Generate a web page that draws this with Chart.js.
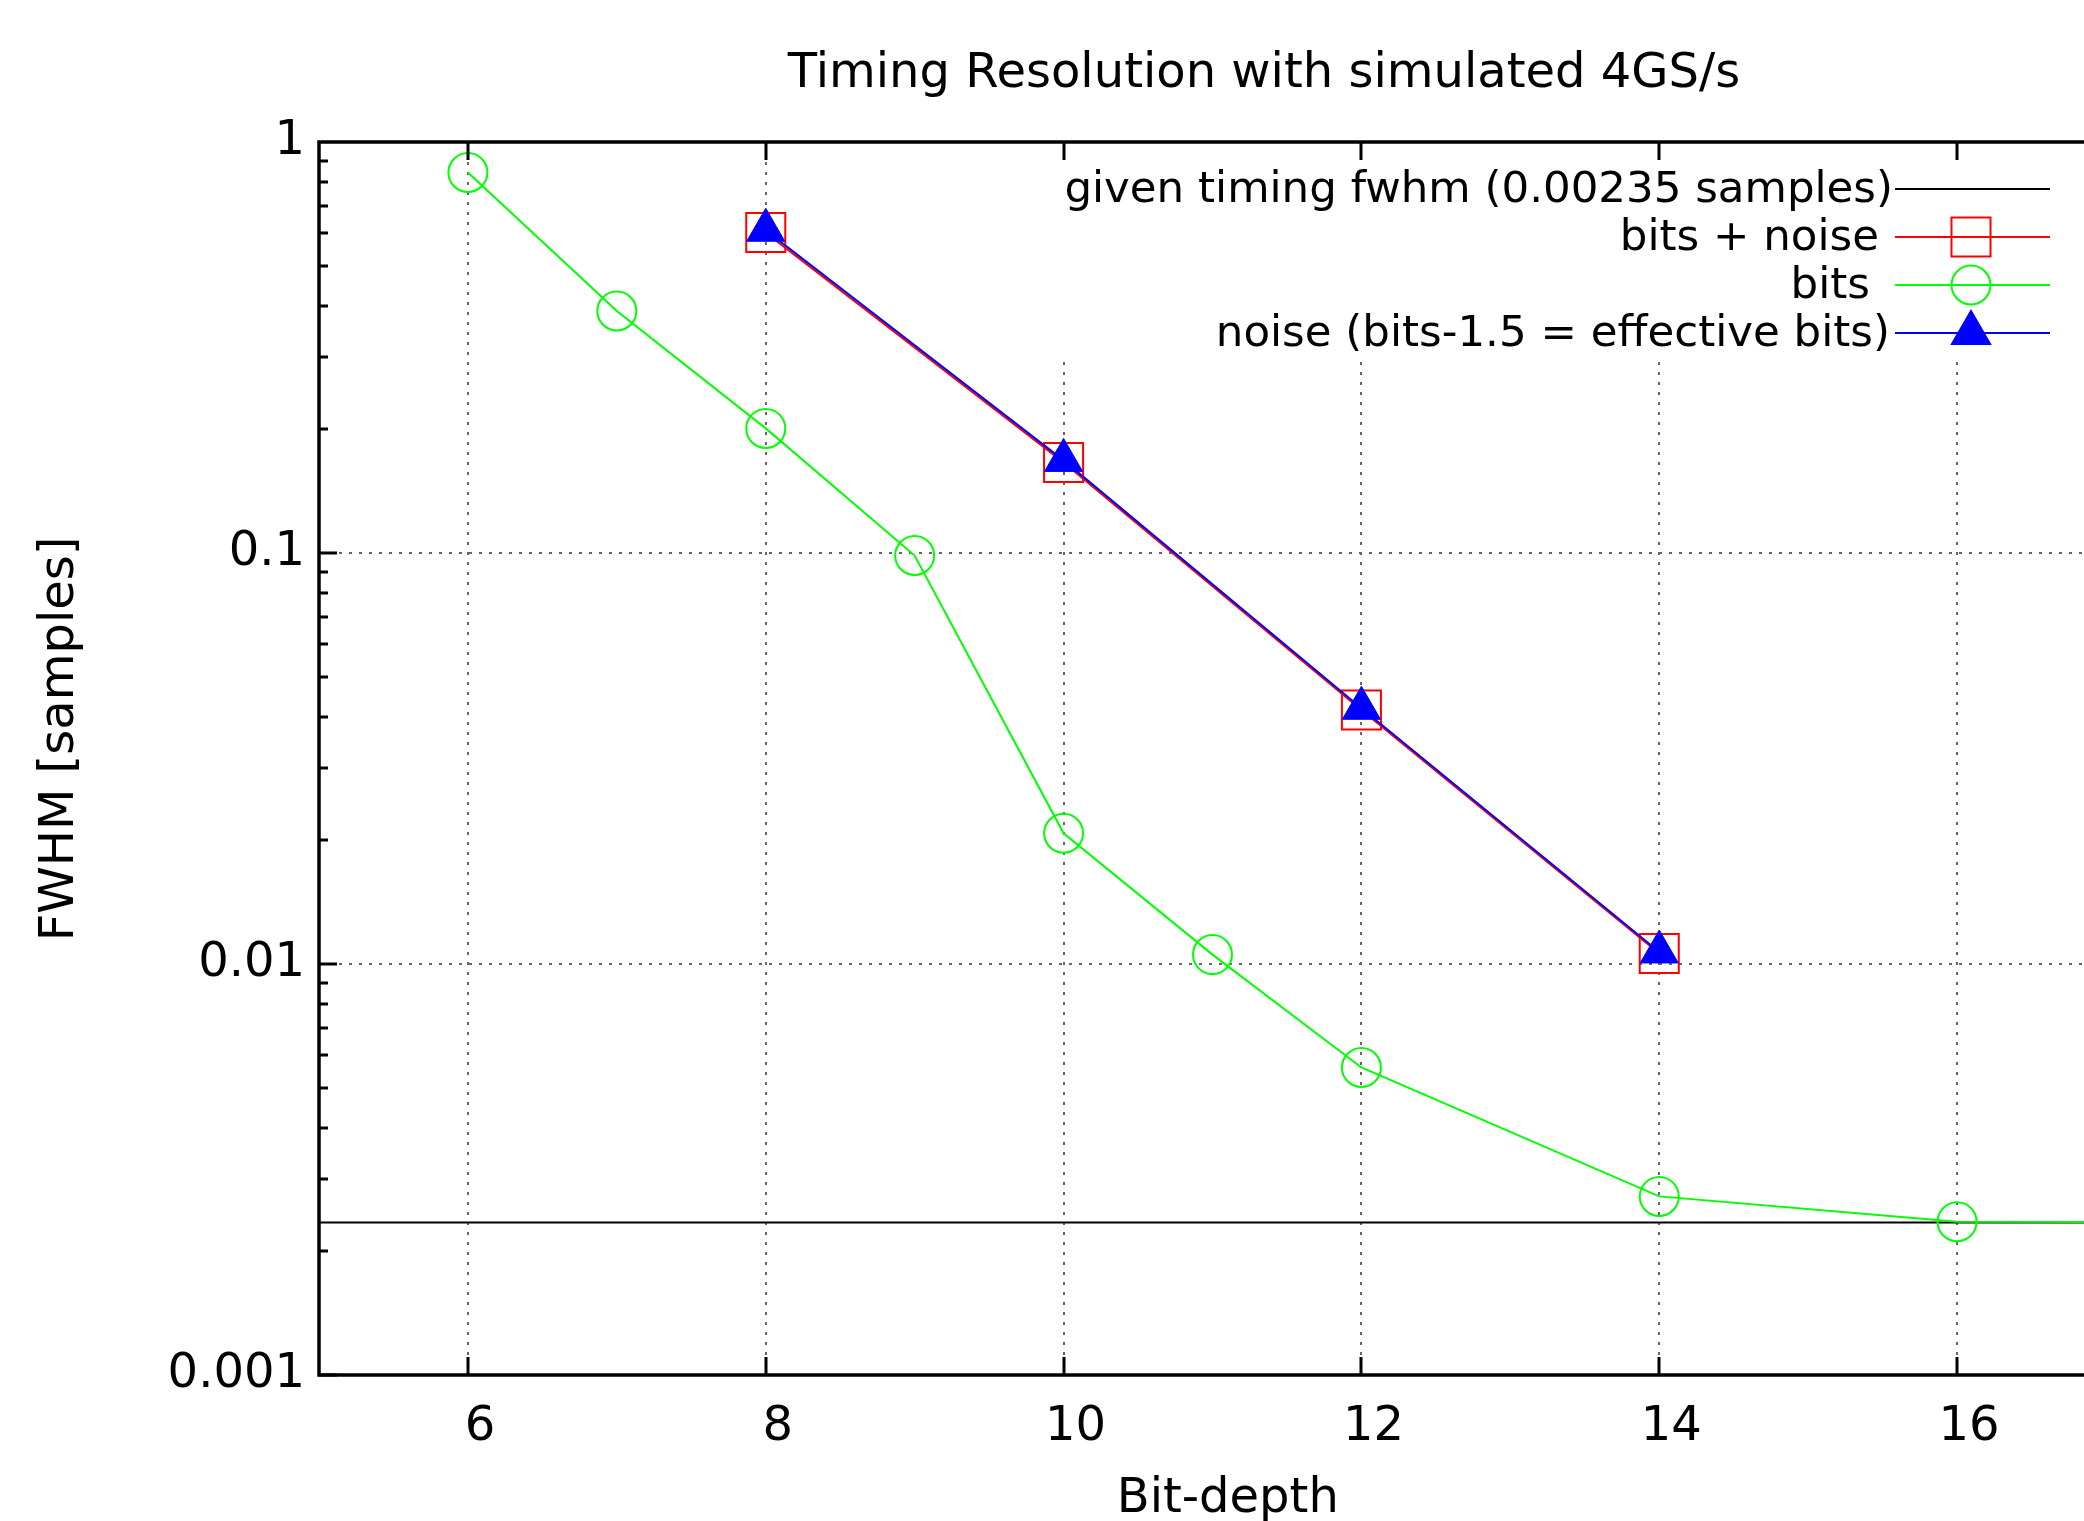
<!DOCTYPE html>
<html>
<head>
<meta charset="utf-8">
<script src="https://cdn.jsdelivr.net/npm/chart.js@4.4.0/dist/chart.umd.min.js"></script>
<style>
html, body { margin: 0; padding: 0; overflow: hidden; background: #fff; }
canvas { display: block; }
</style>
</head>
<body>
<canvas id="grafico" width="2528" height="1521"></canvas>
<script>
// datos
var bitDepth = [6, 7, 8, 9, 10, 11, 12, 14, 16, 18];
var fwhmBits = [0.843, 0.388, 0.201, 0.0986, 0.0208, 0.01054, 0.0056, 0.00272, 0.00236, 0.00235];
var bitDepthNoise = [8, 10, 12, 14];
var fwhmBitsNoise = [0.602, 0.166, 0.0415, 0.0106];
var fwhmNoise = [0.610, 0.168, 0.0419, 0.0107];
var givenFwhm = 0.00235;
var xTicks = [6, 8, 10, 12, 14, 16];
var yTicks = [0.001, 0.01, 0.1, 1];
var leyenda = ['given timing fwhm (0.00235 samples)', 'bits + noise', 'bits', 'noise (bits-1.5 = effective bits)'];

var fuente = 'DejaVu Sans';
var tam = 48;
var tamLeyenda = 43.5;
var xMin = 5, xMax = 17, yMin = 0.001, yMax = 1;

function puntos(xs, ys) {
    var aux = [];
    for (var i = 0; i < xs.length; i++) {
        aux.push({x: xs[i], y: ys[i]});
    }
    return aux;
}

// estilos de cada serie (para el dibujo y la leyenda)
var estilos = [
    {color: '#000000', punto: false, finTexto: 1893},
    {color: '#ff0000', punto: 'rect', radio: 27.6, relleno: 'rgba(0,0,0,0)', finTexto: 1879},
    {color: '#00ff00', punto: 'circle', radio: 19.5, relleno: 'rgba(0,0,0,0)', finTexto: 1870},
    {color: '#0000ff', punto: 'triangle', radio: 22, relleno: '#0000ff', finTexto: 1890}
];

var marcoGnuplot = {
    id: 'marcoGnuplot',
    beforeDatasetsDraw: function(chart) {
        var ctx = chart.ctx;
        var a = chart.chartArea;
        var sx = chart.scales.x, sy = chart.scales.y;
        ctx.save();
        // rejilla punteada
        ctx.strokeStyle = '#666666';
        ctx.lineWidth = 2;
        ctx.setLineDash([3, 7]);
        for (var i = 0; i < xTicks.length; i++) {
            var px = Math.round(sx.getPixelForValue(xTicks[i]));
            ctx.beginPath();
            ctx.moveTo(px, a.top);
            ctx.lineTo(px, a.bottom);
            ctx.stroke();
        }
        for (var j = 0; j < yTicks.length; j++) {
            if (yTicks[j] <= yMin || yTicks[j] >= yMax) continue;
            var py = Math.round(sy.getPixelForValue(yTicks[j]));
            ctx.beginPath();
            ctx.moveTo(a.left, py);
            ctx.lineTo(a.right, py);
            ctx.stroke();
        }
        ctx.setLineDash([]);
        // caja blanca de la leyenda (tapa la rejilla)
        ctx.font = tamLeyenda + 'px "' + fuente + '"';
        var ancho = ctx.measureText(leyenda[0]).width;
        var izq = 1893 - ancho - 12;
        ctx.fillStyle = '#ffffff';
        ctx.fillRect(izq, a.top + 2, 2090 - izq, 212);
        ctx.restore();
    },
    afterDatasetsDraw: function(chart) {
        var ctx = chart.ctx;
        var a = chart.chartArea;
        var sx = chart.scales.x, sy = chart.scales.y;
        ctx.save();
        // leyenda
        ctx.font = tamLeyenda + 'px "' + fuente + '"';
        ctx.textAlign = 'right';
        ctx.textBaseline = 'middle';
        for (var k = 0; k < leyenda.length; k++) {
            var yy = 189 + k * 48;
            ctx.fillStyle = '#000000';
            ctx.fillText(leyenda[k], estilos[k].finTexto, yy + 2);
            ctx.strokeStyle = estilos[k].color;
            ctx.lineWidth = 2;
            ctx.beginPath();
            ctx.moveTo(1895, yy);
            ctx.lineTo(2050, yy);
            ctx.stroke();
            if (estilos[k].punto) {
                ctx.fillStyle = estilos[k].relleno;
                Chart.helpers.drawPoint(ctx, {pointStyle: estilos[k].punto, radius: estilos[k].radio, rotation: 0, borderWidth: 2}, 1971, yy);
            }
        }
        // bordes
        ctx.strokeStyle = '#000000';
        ctx.lineWidth = 3.5;
        ctx.beginPath();
        ctx.moveTo(a.right, a.top);
        ctx.lineTo(a.left, a.top);
        ctx.lineTo(a.left, a.bottom);
        ctx.lineTo(a.right, a.bottom);
        ctx.lineTo(a.right, a.top);
        ctx.stroke();
        // marcas hacia dentro
        ctx.lineWidth = 3;
        for (var i = 0; i < xTicks.length; i++) {
            var px = Math.round(sx.getPixelForValue(xTicks[i]));
            ctx.beginPath();
            ctx.moveTo(px, a.bottom);
            ctx.lineTo(px, a.bottom - 18);
            ctx.moveTo(px, a.top);
            ctx.lineTo(px, a.top + 18);
            ctx.stroke();
        }
        for (var e = -3; e < 0; e++) {
            for (var m = 1; m <= 9; m++) {
                var v = m * Math.pow(10, e);
                var py = Math.round(sy.getPixelForValue(v));
                var largo = (m === 1) ? 18 : 9;
                ctx.beginPath();
                ctx.moveTo(a.left, py);
                ctx.lineTo(a.left + largo, py);
                ctx.moveTo(a.right, py);
                ctx.lineTo(a.right - largo, py);
                ctx.stroke();
            }
        }
        ctx.restore();
    }
};

var ctx = document.getElementById('grafico').getContext('2d');
var myChart = new Chart(ctx, {
    type: 'line',
    data: {
        datasets: [{
            label: leyenda[0],
            data: puntos([xMin, xMax], [givenFwhm, givenFwhm]),
            borderColor: estilos[0].color,
            borderWidth: 2,
            pointRadius: 0,
            order: 3
        }, {
            label: leyenda[1],
            data: puntos(bitDepthNoise, fwhmBitsNoise),
            borderColor: estilos[1].color,
            borderWidth: 2,
            pointStyle: 'rect',
            pointRadius: estilos[1].radio,
            pointBorderWidth: 2,
            pointBorderColor: estilos[1].color,
            pointBackgroundColor: estilos[1].relleno,
            order: 2
        }, {
            label: leyenda[2],
            data: puntos(bitDepth, fwhmBits),
            borderColor: estilos[2].color,
            borderWidth: 2,
            pointStyle: 'circle',
            pointRadius: estilos[2].radio,
            pointBorderWidth: 2,
            pointBorderColor: estilos[2].color,
            pointBackgroundColor: estilos[2].relleno,
            order: 1
        }, {
            label: leyenda[3],
            data: puntos(bitDepthNoise, fwhmNoise),
            borderColor: estilos[3].color,
            borderWidth: 2,
            pointStyle: 'triangle',
            pointRadius: estilos[3].radio,
            pointBorderWidth: 1,
            pointBorderColor: estilos[3].color,
            pointBackgroundColor: estilos[3].relleno,
            order: 0
        }]
    },
    options: {
        responsive: false,
        animation: false,
        devicePixelRatio: 1,
        layout: {padding: 0},
        plugins: {
            legend: {display: false},
            tooltip: {enabled: false},
            title: {
                display: true,
                text: 'Timing Resolution with simulated 4GS/s',
                color: '#000000',
                font: {family: fuente, size: tam, weight: 'normal', lineHeight: 1.2},
                padding: {top: 46, bottom: 38.4}
            }
        },
        scales: {
            x: {
                type: 'linear',
                position: 'bottom',
                min: xMin,
                max: xMax,
                grid: {display: false, drawTicks: false},
                border: {display: false},
                afterBuildTicks: function(scale) {
                    scale.ticks = xTicks.map(function(v) { return {value: v}; });
                },
                afterFit: function(scale) { scale.height = 146; },
                ticks: {
                    color: '#000000',
                    padding: 24,
                    labelOffset: 12,
                    maxRotation: 0,
                    font: {family: fuente, size: tam}
                },
                title: {
                    display: true,
                    text: '  Bit-depth',
                    color: '#000000',
                    padding: {top: 0, bottom: 0},
                    font: {family: fuente, size: tam, lineHeight: 0.9}
                }
            },
            y: {
                type: 'logarithmic',
                position: 'left',
                min: yMin,
                max: yMax,
                grid: {display: false, drawTicks: false},
                border: {display: false},
                afterBuildTicks: function(scale) {
                    scale.ticks = yTicks.map(function(v) { return {value: v}; });
                },
                afterFit: function(scale) { scale.width = 319; },
                ticks: {
                    color: '#000000',
                    padding: 14,
                    font: {family: fuente, size: tam},
                    callback: function(v) { return String(v); }
                },
                title: {
                    display: true,
                    text: '\u2002 FWHM [samples]',
                    color: '#000000',
                    padding: {top: 32, bottom: 0},
                    font: {family: fuente, size: tam}
                }
            },
            derecha: {
                type: 'linear',
                axis: 'y',
                position: 'right',
                display: true,
                grid: {display: false, drawTicks: false},
                border: {display: false},
                ticks: {display: false},
                afterFit: function(scale) { scale.width = 2528 - 2106; }
            }
        }
    },
    plugins: [marcoGnuplot]
});
</script>
</body>
</html>
